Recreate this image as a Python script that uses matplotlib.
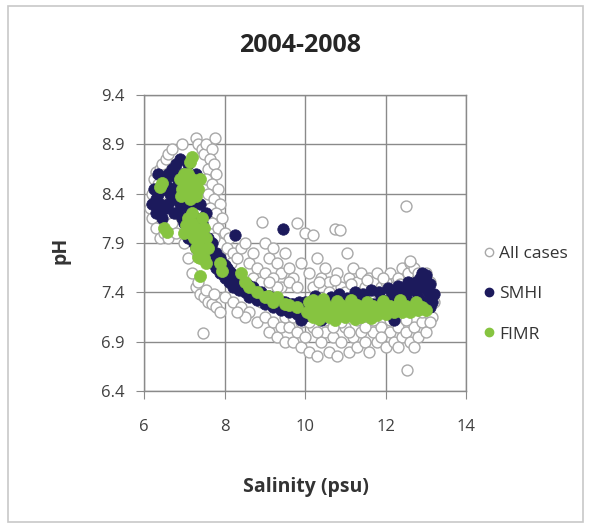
import numpy as np
import matplotlib
matplotlib.use("Agg")
import matplotlib.pyplot as plt
from matplotlib.lines import Line2D
from matplotlib.patches import Rectangle

plt.rcParams['font.family'] = ['Open Sans', 'DejaVu Sans']

# salinity (psu), pH pairs
all_cases = [
    (6.15, 8.25), (6.2, 8.4), (6.25, 8.55), (6.3, 8.62), (6.35, 8.5), (6.4, 8.65), (6.45, 8.7),
    (6.2, 8.15), (6.3, 8.05), (6.4, 7.95), (6.5, 8.0), (6.55, 8.75), (6.6, 8.8), (6.7, 8.85),
    (6.5, 8.3), (6.6, 7.95), (6.7, 8.1), (6.8, 8.0), (6.9, 8.7), (6.95, 8.9),
    (7.3, 8.96), (7.35, 8.9), (7.45, 8.85), (7.5, 8.8), (7.55, 8.9), (7.76, 8.96), (7.7, 8.85),
    (7.65, 8.75), (7.6, 8.65), (7.75, 8.7), (7.8, 8.6), (7.55, 8.55), (7.7, 8.5), (7.85, 8.45),
    (7.6, 8.4), (7.75, 8.35), (7.9, 8.3), (7.65, 8.25), (7.8, 8.2), (7.95, 8.15), (7.7, 8.1),
    (7.85, 8.05), (8.0, 8.0), (8.1, 7.95), (7.9, 7.9), (8.05, 7.85), (8.2, 7.8), (7.75, 7.95),
    (8.15, 7.7), (8.3, 7.75), (8.4, 7.85), (8.5, 7.9),
    (7.0, 7.9), (7.1, 7.75), (7.2, 7.6), (7.3, 7.45), (7.4, 7.38), (7.5, 7.35), (7.6, 7.3),
    (7.7, 7.28), (7.8, 7.25), (7.9, 7.2), (7.47, 6.99), (7.35, 7.5), (7.55, 7.42), (7.75, 7.38),
    (8.6, 7.7), (8.7, 7.8), (8.8, 7.65), (8.93, 8.11), (9.0, 7.9), (9.1, 7.75), (9.2, 7.85),
    (9.3, 7.7), (9.4, 7.6), (9.5, 7.8), (9.6, 7.65), (9.7, 7.55), (9.8, 8.1), (9.9, 7.7),
    (10.0, 8.0), (10.2, 7.98), (8.7, 7.55), (8.9, 7.5), (9.0, 7.6), (9.2, 7.55), (9.4, 7.45),
    (9.6, 7.5), (9.8, 7.45),
    (8.0, 7.35), (8.2, 7.3), (8.4, 7.25), (8.6, 7.2), (8.8, 7.1), (9.0, 7.15), (9.1, 7.0),
    (9.2, 7.1), (9.3, 6.95), (9.4, 7.05), (9.5, 6.9), (9.6, 7.05), (9.7, 6.9), (9.8, 7.0),
    (9.9, 6.85), (9.5, 7.15), (9.7, 7.15), (9.9, 7.1),
    (10.1, 7.6), (10.3, 7.75), (10.4, 7.55), (10.5, 7.65), (10.6, 7.5), (10.75, 8.04), (10.87, 8.03),
    (10.8, 7.6), (10.9, 7.45), (11.04, 7.8), (11.1, 7.55), (11.2, 7.65), (11.3, 7.5), (11.4, 7.6),
    (11.5, 7.45), (11.6, 7.55), (11.7, 7.5), (11.8, 7.6), (11.9, 7.45), (12.0, 7.5), (12.1, 7.6),
    (12.2, 7.45), (12.3, 7.55), (12.4, 7.65), (12.5, 8.27), (12.55, 7.6), (12.6, 7.7), (12.7, 7.65),
    (12.8, 7.6), (12.9, 7.55), (13.0, 7.6), (13.1, 7.5), (10.2, 7.45), (10.6, 7.4), (11.0, 7.4),
    (11.4, 7.38), (11.8, 7.4), (12.2, 7.38), (12.6, 7.72),
    (10.0, 6.95), (10.1, 6.8), (10.2, 7.05), (10.3, 6.75), (10.4, 6.9), (10.5, 7.0), (10.6, 6.8),
    (10.7, 6.95), (10.8, 6.75), (10.9, 6.9), (11.0, 7.05), (11.1, 6.8), (11.2, 6.95), (11.3, 6.85),
    (11.4, 7.0), (11.5, 6.9), (11.6, 6.8), (11.7, 7.0), (11.8, 6.9), (11.9, 7.05), (12.0, 6.85),
    (12.1, 7.0), (12.2, 6.9), (12.3, 7.05), (12.4, 6.95), (12.5, 7.0), (12.53, 6.61), (12.6, 6.9),
    (12.7, 7.05), (12.8, 6.95), (12.9, 7.1), (13.0, 7.0), (10.1, 7.1), (10.5, 7.12), (10.9, 7.1),
    (11.3, 7.12), (11.7, 7.12), (12.1, 7.12), (12.5, 7.12), (12.9, 7.2), (13.2, 7.3), (13.15, 7.15),
    (10.35, 7.5), (10.75, 7.52), (11.15, 7.48), (11.55, 7.52), (11.95, 7.55), (12.35, 7.48),
    (12.75, 7.5), (10.3, 7.0), (10.7, 7.05), (11.1, 7.0), (11.5, 7.05), (11.9, 6.95), (12.3, 6.85),
    (12.7, 6.85), (13.1, 7.1), (9.3, 7.45), (9.1, 7.5), (8.9, 7.3), (8.5, 7.15), (8.3, 7.2),
]

smhi = [
    (6.2, 8.3), (6.3, 8.2), (6.35, 8.4), (6.4, 8.3), (6.45, 8.15), (6.5, 8.45), (6.55, 8.25),
    (6.6, 8.6), (6.65, 8.4), (6.7, 8.65), (6.75, 8.2), (6.8, 8.7), (6.85, 8.5), (6.9, 8.3),
    (6.95, 8.6), (7.0, 8.1), (7.05, 8.4), (7.1, 8.25), (7.1, 7.95), (7.15, 8.05), (7.2, 8.3),
    (7.25, 7.9), (7.3, 8.15), (7.3, 7.85), (7.35, 8.0), (7.4, 7.95), (7.45, 7.85), (7.5, 7.8),
    (7.55, 7.9), (7.6, 7.75), (7.65, 7.85), (7.7, 7.7), (7.75, 7.8), (7.8, 7.65), (7.85, 7.75),
    (7.9, 7.6), (7.95, 7.7), (8.0, 7.55), (8.05, 7.65), (8.1, 7.5), (8.15, 7.6), (8.2, 7.45),
    (8.26, 7.98), (8.3, 7.55), (8.35, 7.42), (8.4, 7.5), (8.5, 7.4), (8.55, 7.48), (8.6, 7.35),
    (8.7, 7.45), (8.8, 7.32), (8.9, 7.4), (9.0, 7.28), (9.1, 7.36), (9.2, 7.25), (9.3, 7.32),
    (9.45, 8.04), (9.4, 7.22), (9.5, 7.3), (9.6, 7.2), (9.7, 7.28), (9.8, 7.18), (9.9, 7.26),
    (7.0, 8.55), (6.9, 8.75), (7.2, 8.55), (7.25, 8.45),
    (6.3, 8.35), (6.45, 8.25), (6.55, 8.5), (6.6, 8.3), (6.7, 8.45), (6.75, 8.58), (6.8, 8.35),
    (6.85, 8.2), (6.95, 8.15), (7.0, 8.3), (7.1, 8.7), (7.3, 8.6), (7.4, 8.3), (7.45, 8.1),
    (7.5, 7.95), (7.55, 8.2), (7.6, 7.95), (7.7, 7.9), (7.8, 7.8), (7.9, 7.75), (8.0, 7.68),
    (8.1, 7.62), (8.2, 7.58), (8.3, 7.5), (8.45, 7.5), (8.65, 7.42), (8.85, 7.38), (9.05, 7.35),
    (9.25, 7.32), (9.45, 7.3), (9.65, 7.28), (9.85, 7.3), (6.25, 8.45), (6.35, 8.6),
    (10.0, 7.16), (10.1, 7.25), (10.2, 7.18), (10.3, 7.28), (10.4, 7.2), (10.5, 7.3), (10.6, 7.18),
    (10.7, 7.28), (10.8, 7.2), (10.9, 7.3), (11.0, 7.18), (11.1, 7.26), (11.2, 7.2), (11.3, 7.3),
    (11.4, 7.22), (11.5, 7.32), (11.6, 7.2), (11.7, 7.28), (11.8, 7.22), (11.9, 7.33), (12.0, 7.24),
    (12.1, 7.3), (12.2, 7.22), (12.3, 7.35), (12.4, 7.28), (12.5, 7.38), (12.6, 7.3), (12.7, 7.42),
    (12.75, 7.5), (12.8, 7.35), (12.85, 7.55), (12.9, 7.45), (12.95, 7.3), (13.0, 7.52), (13.05, 7.4),
    (13.1, 7.48), (13.15, 7.3), (13.2, 7.38), (13.1, 7.25), (12.9, 7.6), (13.0, 7.58),
    (10.25, 7.36), (10.65, 7.35), (11.05, 7.34), (11.45, 7.38), (11.85, 7.4), (12.15, 7.38),
    (12.45, 7.44), (12.6, 7.45), (10.0, 7.3), (9.9, 7.12), (10.4, 7.12), (12.2, 7.12),
    (11.25, 7.4), (11.65, 7.42), (12.05, 7.44), (12.3, 7.46), (12.55, 7.5), (10.85, 7.38),
]

fimr = [
    (6.45, 8.51), (6.4, 8.47), (6.57, 8.01), (6.5, 8.05), (7.19, 8.77), (7.15, 8.72), (7.0, 8.6),
    (7.05, 8.5), (7.1, 8.45), (7.2, 8.55), (7.25, 8.4), (6.95, 8.45), (7.3, 8.5), (7.15, 8.35),
    (7.0, 8.4), (7.35, 8.45), (7.1, 8.6), (6.9, 8.55), (6.92, 8.38), (7.4, 8.55), (7.3, 8.38),
    (7.1, 8.15), (7.2, 8.1), (7.3, 8.05), (7.15, 8.0), (7.25, 7.95), (7.35, 7.9), (7.4, 8.0),
    (7.3, 7.85), (7.45, 7.85), (7.2, 8.2), (7.4, 7.75), (7.34, 7.76), (7.39, 7.57), (7.55, 7.7),
    (7.05, 8.08), (7.0, 8.0), (7.5, 8.05), (7.45, 8.15), (7.55, 7.95), (7.6, 7.85), (7.5, 7.75),
    (7.9, 7.7), (7.95, 7.62), (8.4, 7.6), (8.5, 7.5), (8.6, 7.45), (8.8, 7.4), (9.0, 7.35),
    (9.08, 7.36), (9.2, 7.3), (9.3, 7.35), (9.6, 7.27), (9.5, 7.28), (9.8, 7.25),
    (10.05, 7.2), (10.1, 7.3), (10.2, 7.15), (10.3, 7.25), (10.4, 7.18), (10.5, 7.28), (10.6, 7.15),
    (10.7, 7.25), (10.8, 7.17), (10.9, 7.27), (11.0, 7.15), (11.1, 7.25), (11.2, 7.17), (11.3, 7.27),
    (11.4, 7.15), (11.5, 7.25), (11.6, 7.18), (11.7, 7.26), (11.8, 7.17), (11.9, 7.25), (12.0, 7.18),
    (12.1, 7.26), (12.2, 7.2), (12.3, 7.27), (12.4, 7.2), (12.5, 7.26), (12.6, 7.2), (12.7, 7.25),
    (12.8, 7.22), (12.9, 7.25), (13.0, 7.22), (10.15, 7.22), (10.55, 7.22), (10.95, 7.22),
    (11.35, 7.22), (11.75, 7.22), (12.15, 7.22), (12.55, 7.22),
    (10.2, 7.32), (10.45, 7.33), (10.8, 7.31), (11.15, 7.32), (11.55, 7.3), (11.95, 7.31),
    (12.35, 7.32), (12.75, 7.3), (10.35, 7.13), (10.75, 7.12), (11.25, 7.13), (11.65, 7.14),
]

x_ticks = [6, 8, 10, 12, 14]
y_ticks = [6.4, 6.9, 7.4, 7.9, 8.4, 8.9, 9.4]

navy = '#1c1a5c'
green = '#86c440'
grid_col = '#8a8a8a'

fig = plt.figure(figsize=(5.89, 5.28), dpi=100)
fig.patches.append(Rectangle((8 / 589, 6 / 528), 575 / 589, 516 / 528, transform=fig.transFigure,
                             fill=False, edgecolor='#c8c8c8', linewidth=1.2))

ax = fig.add_axes([144 / 589, 1 - 391 / 528, 322 / 589, 296 / 528])

a = np.array(all_cases)
s = np.array(smhi)
f = np.array(fimr)
ax.scatter(a[:, 0], a[:, 1], s=62, facecolor='white', edgecolor='#a8a8a8', linewidth=1.0, zorder=3)
ax.scatter(s[:, 0], s[:, 1], s=68, color=navy, edgecolor=navy, linewidth=0.5, zorder=4)
ax.scatter(f[:, 0], f[:, 1], s=75, color=green, edgecolor=green, linewidth=0.5, zorder=5)

ax.set_xlim(6, 14)
ax.set_ylim(6.4, 9.4)
ax.set_xticks(x_ticks)
ax.set_yticks(y_ticks)
ax.set_yticklabels(['%.1f' % v for v in y_ticks])
ax.grid(True, color=grid_col, linewidth=1.0, zorder=0)
ax.set_axisbelow(True)
for sp in ax.spines.values():
    sp.set_color(grid_col)
    sp.set_linewidth(1.0)
ax.tick_params(length=6, color=grid_col, labelsize=12, labelcolor='#404040', pad=8)
ax.tick_params(axis='x', pad=14)

fig.text(300 / 589, 1 - 45 / 528, '2004-2008', ha='center', va='center', fontsize=18, fontweight='bold', color='#262626')
fig.text(306 / 589, 1 - 487 / 528, 'Salinity (psu)', ha='center', va='center', fontsize=14, fontweight='bold', color='#333333')
fig.text(60 / 589, 1 - 250 / 528, 'pH', ha='center', va='center', rotation=90, fontsize=14, fontweight='bold', color='#333333')

handles = [
    Line2D([], [], linestyle='none', marker='o', markersize=6, markerfacecolor='white', markeredgecolor='#a8a8a8'),
    Line2D([], [], linestyle='none', marker='o', markersize=6, markerfacecolor=navy, markeredgecolor=navy),
    Line2D([], [], linestyle='none', marker='o', markersize=6, markerfacecolor=green, markeredgecolor=green),
]
fig.legend(handles, ['All cases', 'SMHI', 'FIMR'], loc='center left', bbox_to_anchor=(466 / 589, 1 - 294 / 528),
           frameon=False, fontsize=12.5, labelspacing=1.4, handlelength=0.8, handletextpad=0.2, labelcolor='#333333')

fig.savefig('out.png', dpi=100)
